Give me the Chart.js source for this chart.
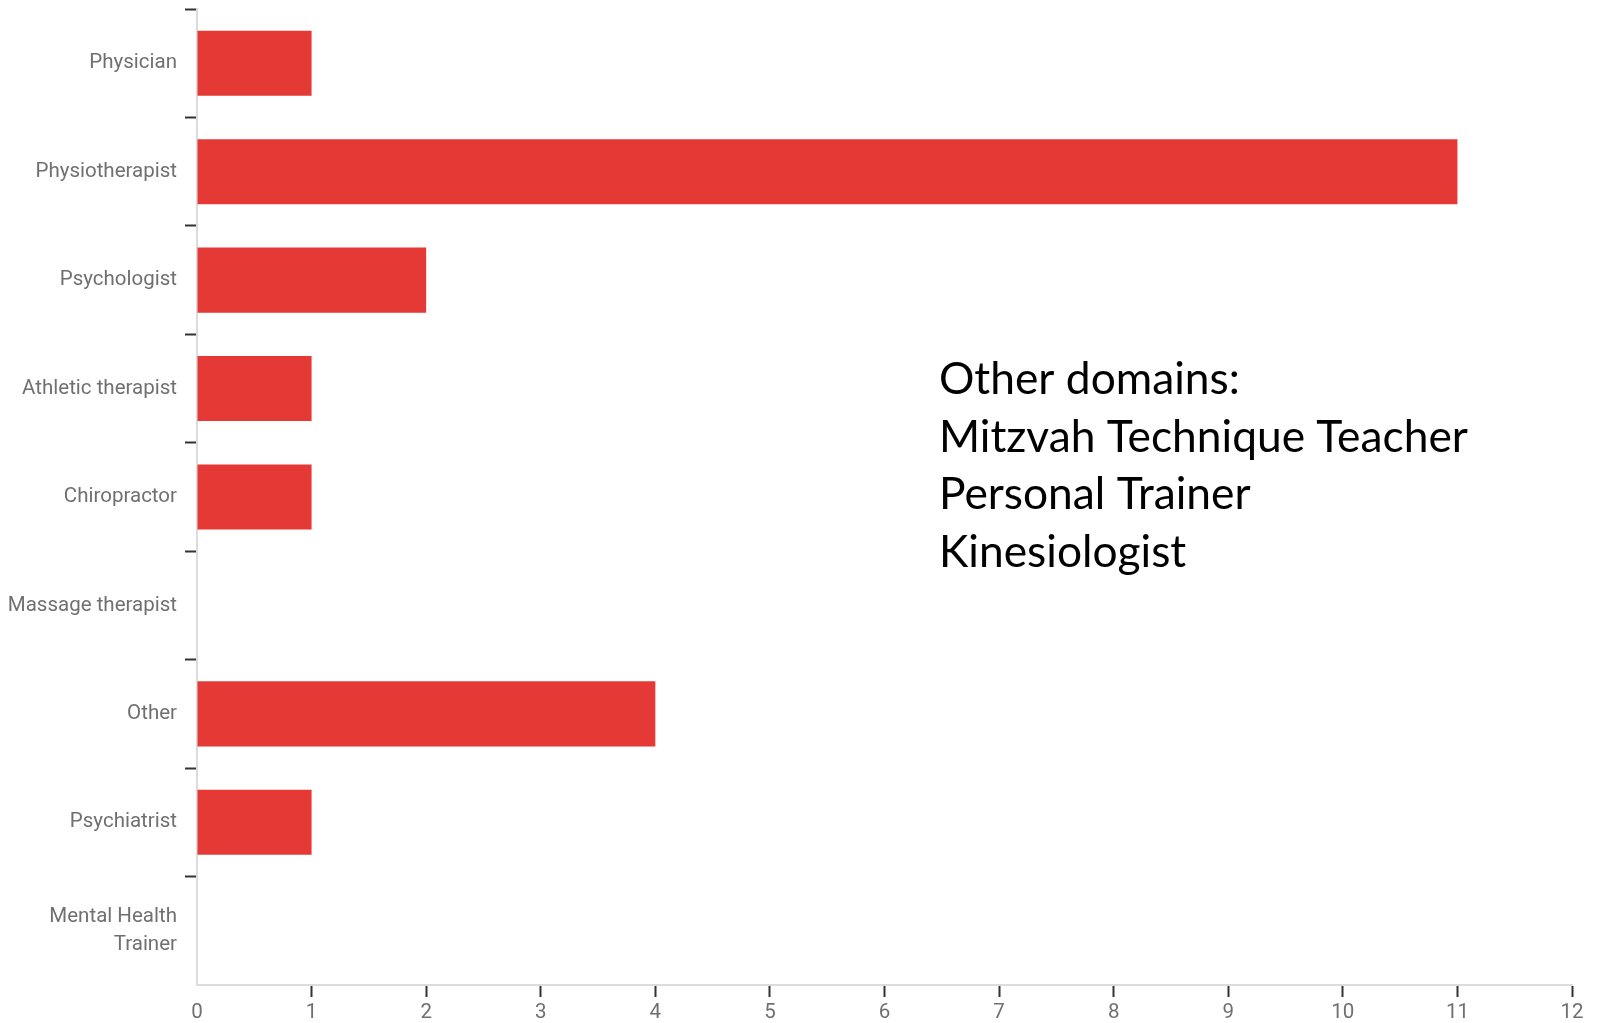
<!DOCTYPE html>
<html>
<head>
<meta charset="utf-8">
<script src="https://cdn.jsdelivr.net/npm/chart.js@4.4.1/dist/chart.umd.min.js"></script>
<style>
  html, body { margin: 0; padding: 0; background: #fff; overflow: hidden; }
  #wrap { width: 1598px; height: 1023px; position: relative; }
</style>
</head>
<body>
<div id="wrap"><canvas id="c" width="1598" height="1023"></canvas></div>
<script>
// ---- data ----
const categories = [
  'Physician',
  'Physiotherapist',
  'Psychologist',
  'Athletic therapist',
  'Chiropractor',
  'Massage therapist',
  'Other',
  'Psychiatrist',
  ['Mental Health', 'Trainer']
];
const counts = [1, 11, 2, 1, 1, 0, 4, 1, 0];
const xTicks = [0, 1, 2, 3, 4, 5, 6, 7, 8, 9, 10, 11, 12];
const noteLines = [
  'Other domains:',
  'Mitzvah Technique Teacher',
  'Personal Trainer',
  'Kinesiologist'
];

// ---- styles ----
const BAR_COLOR = '#e53936';
const LABEL_COLOR = '#707070';
const AXIS_COLOR = '#dcdcdc';
const TICK_COLOR = '#333333';
const LABEL_FONT = "Roboto, 'Liberation Sans', sans-serif";

const notePlugin = {
  id: 'note',
  afterDraw(chart) {
    const ctx = chart.ctx;
    ctx.save();
    ctx.fillStyle = '#000';
    ctx.textAlign = 'left';
    ctx.textBaseline = 'alphabetic';
    let size = 50;
    ctx.font = size + "px Lato, 'Open Sans', sans-serif";
    let w = Math.max(...noteLines.map(s => ctx.measureText(s).width));
    size = size * 529 / w;
    ctx.font = size.toFixed(2) + "px Lato, 'Open Sans', sans-serif";
    const x = 939, y0 = 394, lh = 57.6;
    noteLines.forEach((s, i) => ctx.fillText(s, x, y0 + i * lh));
    ctx.restore();
  }
};

new Chart(document.getElementById('c'), {
  type: 'bar',
  data: {
    labels: categories,
    datasets: [{
      data: counts,
      backgroundColor: BAR_COLOR,
      borderWidth: 0,
      barPercentage: 0.6,
      categoryPercentage: 1.0
    }]
  },
  options: {
    indexAxis: 'y',
    responsive: false,
    devicePixelRatio: 1,
    animation: false,
    layout: { padding: { top: 9, right: 26, left: 0, bottom: 0 } },
    plugins: {
      legend: { display: false },
      tooltip: { enabled: false },
      title: { display: false }
    },
    scales: {
      x: {
        type: 'linear',
        min: xTicks[0],
        max: xTicks[xTicks.length - 1],
        afterBuildTicks: (scale) => { scale.ticks = xTicks.map(v => ({ value: v })); },
        afterFit: (scale) => { scale.height = 38; },
        grid: {
          drawOnChartArea: false,
          drawTicks: true,
          tickLength: 12,
          tickWidth: 2,
          tickColor: (c) => (c.type === 'tick' && c.index > 0) ? TICK_COLOR : 'rgba(0,0,0,0)'
        },
        border: { display: true, color: AXIS_COLOR, width: 2 },
        ticks: {
          color: LABEL_COLOR,
          padding: 4,
          font: { family: LABEL_FONT, size: 20.5 }
        }
      },
      y: {
        type: 'category',
        afterFit: (scale) => { scale.width = 197; scale.paddingTop = 0; scale.paddingBottom = 0; },
        grid: {
          offset: true,
          drawOnChartArea: false,
          drawTicks: true,
          tickLength: 12,
          tickWidth: 2,
          tickColor: (c) => c.type === 'tick' ? TICK_COLOR : 'rgba(0,0,0,0)'
        },
        border: { display: true, color: AXIS_COLOR, width: 2 },
        ticks: {
          color: LABEL_COLOR,
          padding: 8,
          font: { family: LABEL_FONT, size: 20.5, lineHeight: 1.34 }
        }
      }
    }
  },
  plugins: [notePlugin]
});
</script>
</body>
</html>
